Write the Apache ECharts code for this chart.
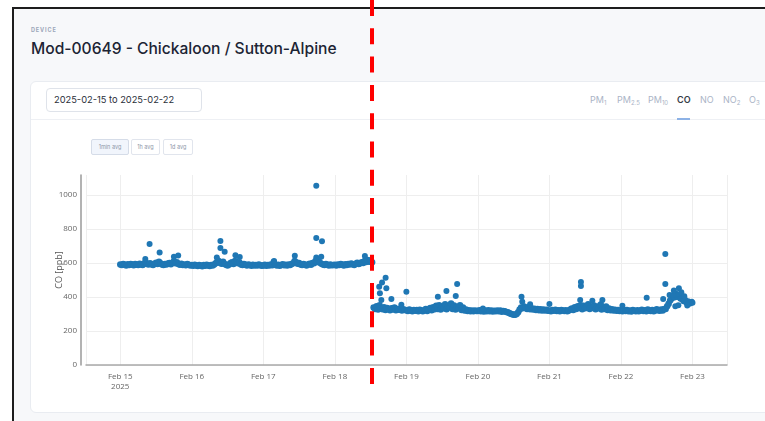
<!DOCTYPE html>
<html>
<head>
<meta charset="utf-8">
<script src="https://cdn.jsdelivr.net/npm/echarts@6/dist/echarts.min.js"></script>
<style>
  html, body { margin: 0; padding: 0; width: 765px; height: 421px; overflow: hidden; background: #fff; font-family: Inter, "Noto Sans", sans-serif; }
  .frame { position: absolute; left: 12px; top: 7px; width: 760px; height: 420px; border-left: 2px solid #1d1d1d; border-top: 2px solid #1d1d1d; background: #f7f8fa; }
  .label { position: absolute; left: 31px; top: 27px; font-size: 5.5px; font-weight: 700; letter-spacing: 0.9px; color: #9ba6b9; }
  .title { position: absolute; left: 31px; top: 39px; font-size: 15.6px; font-weight: 500; color: #1c2434; white-space: nowrap; }
  .card { position: absolute; left: 30px; top: 81px; width: 760px; height: 330px; background: #fff; border: 1px solid #e9ecf1; border-radius: 6px; }
  .sep { position: absolute; left: 31px; top: 119px; width: 740px; height: 1px; background: #eef0f4; }
  .date { position: absolute; left: 46px; top: 88px; width: 156px; height: 24px; border: 1px solid #dfe3ea; border-radius: 4px; box-sizing: border-box; font-size: 9.3px; line-height: 22px; padding-left: 7px; color: #2a2f3a; }
  .tab { position: absolute; top: 94px; font-size: 9px; color: #aab4c6; white-space: nowrap; }
  .tab sub { font-size: 6px; vertical-align: -2px; }
  .tab.on { color: #363b46; font-weight: 600; }
  .uline { position: absolute; left: 677px; top: 118px; width: 13px; height: 2px; background: #8db2e6; }
  .btn { position: absolute; top: 139px; height: 16px; box-sizing: border-box; border: 1px solid #e1e5ed; border-radius: 2px; font-size: 5.5px; line-height: 14px; text-align: center; color: #8c96a8; background: #fff; }
  .btn.on { background: #f1f5fc; border-color: #d5dce8; }
  #chart { position: absolute; left: 0; top: 0; width: 765px; height: 421px; }
</style>
</head>
<body>
<div class="frame"></div>
<div class="label">DEVICE</div>
<div class="title">Mod-00649 - Chickaloon / Sutton-Alpine</div>
<div class="card"></div>
<div class="sep"></div>
<div class="date">2025-02-15 to 2025-02-22</div>
<div class="tab" style="left:590px">PM<sub>1</sub></div>
<div class="tab" style="left:617px">PM<sub>2.5</sub></div>
<div class="tab" style="left:648px">PM<sub>10</sub></div>
<div class="tab on" style="left:677px">CO</div>
<div class="tab" style="left:700px">NO</div>
<div class="tab" style="left:723px">NO<sub>2</sub></div>
<div class="tab" style="left:749px">O<sub>3</sub></div>
<div class="uline"></div>
<div class="btn on" style="left:91px;width:38px">1min avg</div>
<div class="btn" style="left:131px;width:29px">1h avg</div>
<div class="btn" style="left:163px;width:30px">1d avg</div>
<div id="chart"></div>
<script>
// CO readings, one value per 30 minutes, per day
var day15 = [592,588,594,590,586,593,589,595, 591,587,594,590,588,596,592,589, 597,604,595,591,598,593,589,596, 601,594,607,598,592,589,595,591, 597,600,593,602,610,598,605,594, 590,596,588,592,587,594,590,586];
var day16 = [588,584,590,586,582,589,585,581, 588,584,590,586,583,589,585,592, 598,606,612,600,596,608,594,590, 586,592,600,604,595,612,606,598, 603,592,588,594,590,586,592,588, 584,590,586,589,585,591,587,584];
var day17 = [586,590,584,589,585,591,587,606, 592,586,590,584,588,593,587,590, 585,591,588,594,598,612,604,596, 600,592,588,594,590,586,592,596, 590,600,598,612,606,616,602,596, 592,588,594,590,585,591,587,589];
var day18 = [590,586,592,588,594,590,586,593, 589,595,591,597,593,589,596,601, 594,598,605,600,612,606,618,608, 615,604,338,330,345,326,352,334, 328,340,324,336,330,322,334,326, 338,322,330,325,332,321,328,324];
var day19 = [322,318,326,320,316,324,319,323, 317,325,320,316,322,330,318,326, 336,322,340,328,348,330,352,326, 344,334,358,328,346,338,362,330, 350,326,342,334,352,324,338,320, 326,318,322,316,320,317,321,318];
var day20 = [318,322,316,320,315,321,317,322, 316,320,315,319,317,321,316,320, 314,318,316,312,310,306,302,298, 295,296,300,310,326,338,334,344, 336,330,340,328,334,326,331,324, 330,322,328,321,326,320,325,319];
var day21 = [321,317,323,319,325,318,322,316, 324,320,318,322,317,321,326,332, 324,340,330,346,336,352,328,348, 334,340,358,330,344,336,350,328, 342,334,352,326,338,330,344,324, 332,322,328,320,325,319,323,318];
var day22 = [320,316,322,318,324,317,321,315, 323,319,317,322,316,320,325,318, 322,316,326,320,318,324,317,321, 328,322,319,326,320,330,330,345, 360,380,392,405,398,418,402,410, 392,388,376,382,368,374,362,368];
var dayStarts = ['2025-02-15','2025-02-16','2025-02-17','2025-02-18','2025-02-19','2025-02-20','2025-02-21','2025-02-22'];

// isolated readings away from the main band
var spikes = [
  ['2025-02-15 08:24', 623], ['2025-02-15 09:50', 712], ['2025-02-15 13:12', 662],
  ['2025-02-15 18:00', 637], ['2025-02-15 19:26', 645],
  ['2025-02-16 08:24', 632], ['2025-02-16 09:36', 729], ['2025-02-16 09:36', 688],
  ['2025-02-16 11:02', 667], ['2025-02-16 14:38', 646], ['2025-02-16 16:05', 635],
  ['2025-02-17 03:36', 612], ['2025-02-17 10:34', 643], ['2025-02-17 17:46', 1055],
  ['2025-02-17 17:46', 747], ['2025-02-17 17:46', 633], ['2025-02-17 19:26', 637],
  ['2025-02-17 19:41', 728], ['2025-02-18 10:05', 641],
  ['2025-02-18 14:53', 461], ['2025-02-18 15:07', 422], ['2025-02-18 15:36', 382],
  ['2025-02-18 15:50', 486], ['2025-02-18 17:02', 514], ['2025-02-18 17:17', 451],
  ['2025-02-18 18:58', 388], ['2025-02-18 22:19', 355], ['2025-02-19 00:00', 431],
  ['2025-02-19 10:34', 402], ['2025-02-19 13:26', 435], ['2025-02-19 16:34', 406],
  ['2025-02-19 17:02', 476], ['2025-02-20 01:41', 333], ['2025-02-20 14:38', 402],
  ['2025-02-20 14:53', 372], ['2025-02-20 17:31', 357], ['2025-02-21 00:00', 359],
  ['2025-02-21 10:19', 382], ['2025-02-21 10:34', 465], ['2025-02-21 10:34', 488],
  ['2025-02-21 14:24', 378], ['2025-02-21 17:17', 359], ['2025-02-21 17:46', 382],
  ['2025-02-22 00:29', 349], ['2025-02-22 08:38', 396], ['2025-02-22 14:10', 388],
  ['2025-02-22 14:53', 476], ['2025-02-22 14:53', 653], ['2025-02-22 16:19', 412],
  ['2025-02-22 17:31', 412], ['2025-02-22 17:45', 438], ['2025-02-22 18:15', 346],
  ['2025-02-22 19:15', 352], ['2025-02-22 19:26', 451], ['2025-02-22 20:15', 428],
  ['2025-02-22 21:15', 404], ['2025-02-22 22:15', 350], ['2025-02-22 23:45', 372],
  ['2025-02-23 00:00', 366]
];

var months = ['Jan','Feb','Mar','Apr','May','Jun','Jul','Aug','Sep','Oct','Nov','Dec'];
var DAY = 24 * 3600 * 1000;
var HALF_HOUR = 30 * 60 * 1000;

function toTime(s) {
  return new Date(s.length > 10 ? s.replace(' ', 'T') : s + 'T00:00').getTime();
}

var days = [day15, day16, day17, day18, day19, day20, day21, day22];
var band = [];
days.forEach(function (vals, d) {
  var t0 = toTime(dayStarts[d]);
  vals.forEach(function (v, i) {
    band.push([t0 + i * HALF_HOUR, v]);
  });
});
var spikePts = spikes.map(function (p) { return [toTime(p[0]), p[1]]; });

var chart = echarts.init(document.getElementById('chart'));
chart.setOption({
  animation: false,
  backgroundColor: 'transparent',
  textStyle: { fontFamily: 'Open Sans' },
  grid: { left: 86, right: 38, top: 175, bottom: 56 },
  xAxis: {
    type: 'time',
    min: toTime('2025-02-14 12:30'),
    max: toTime('2025-02-23 11:35'),
    minInterval: DAY,
    maxInterval: DAY,
    axisLine: { lineStyle: { color: '#a9a9a9', width: 1.5 } },
    axisTick: { show: false },
    splitLine: { show: true, lineStyle: { color: '#eeeeee', width: 1 } },
    axisLabel: {
      color: '#666', fontSize: 8, lineHeight: 10, margin: 7,
      showMinLabel: false, showMaxLabel: false,
      formatter: function (val) {
        var d = new Date(val);
        var s = months[d.getMonth()] + ' ' + d.getDate();
        if (d.getDate() === 15) s += '\n' + d.getFullYear();
        return s;
      }
    }
  },
  yAxis: {
    type: 'value',
    min: 0, max: 1118, interval: 200,
    offset: 5,
    name: 'CO [ppb]',
    nameLocation: 'middle',
    nameGap: 17,
    nameMoveOverlap: false,
    nameTextStyle: { color: '#555', fontSize: 9 },
    axisLine: { show: true, lineStyle: { color: '#9a9a9a', width: 1.5 } },
    axisTick: { show: false },
    axisLabel: {
      color: '#666', fontSize: 8, margin: 4, showMaxLabel: false,
      formatter: function (v) { return String(v); }
    },
    splitLine: { lineStyle: { color: '#eeeeee', width: 1 }, showMaxLine: false }
  },
  graphic: [{
    type: 'line',
    z: 100,
    shape: { x1: 372, y1: 0, x2: 372, y2: 384 },
    style: { stroke: '#ff0000', lineWidth: 4, lineDash: [16, 12.3] }
  }],
  series: [
    {
      type: 'scatter', data: band, symbolSize: 6.5,
      itemStyle: { color: '#1f77b4', opacity: 1 }
    },
    {
      type: 'scatter', data: spikePts, symbolSize: 6,
      itemStyle: { color: '#1f77b4', opacity: 1 }
    }
  ]
});
</script>
</body>
</html>
